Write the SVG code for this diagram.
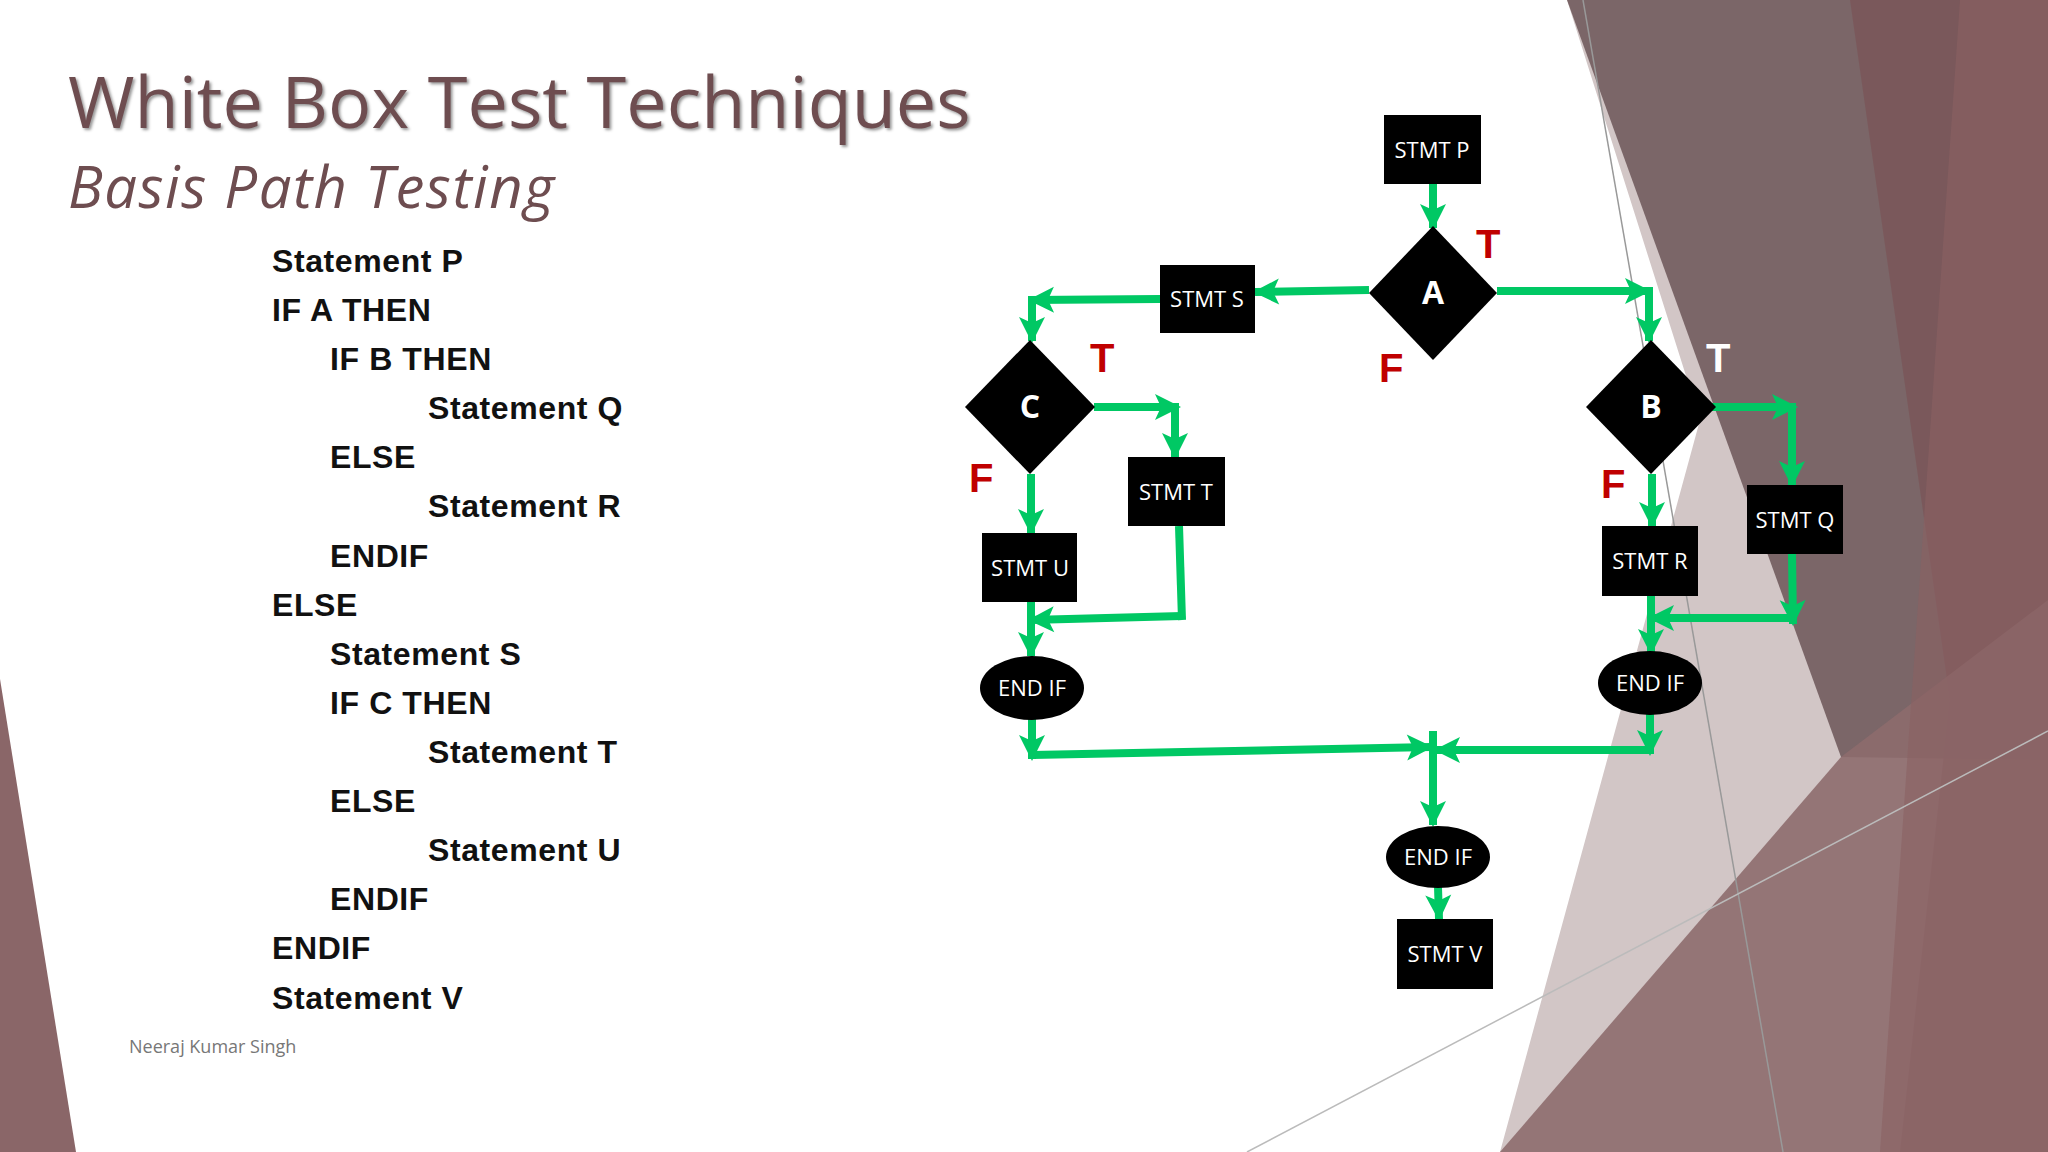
<svg xmlns="http://www.w3.org/2000/svg" width="2048" height="1152" viewBox="0 0 2048 1152">
<defs>
<marker id="ah" markerUnits="userSpaceOnUse" markerWidth="30" markerHeight="30" viewBox="0 0 30 30" refX="26" refY="15" orient="auto"><path d="M2,2 L28,15 L2,28 L8,15 Z" fill="#00c864"/></marker>
</defs>
<style>
.box{fill:#000}
.nt{font-family:"Open Sans","Liberation Sans",sans-serif;fill:#fff;font-size:22px;text-anchor:middle}
.dt{font-family:"Open Sans","Liberation Sans",sans-serif;fill:#fff;font-size:32px;font-weight:bold;text-anchor:middle}
.lb{font-family:"Liberation Sans",sans-serif;fill:#c00000;font-size:40px;font-weight:bold}
.code{font-family:"Liberation Sans",Arial,sans-serif;font-size:32px;font-weight:bold;fill:#111;letter-spacing:0.6px}
.e line{stroke:#00c864;stroke-width:8;marker-end:url(#ah)}
.e line.n{marker-end:none}
</style>
<rect width="2048" height="1152" fill="#fff"/>
<g id="background">
<polygon points="0,679 76,1152 0,1152" fill="#8a6668"/>
<polygon points="1567,0 2048,0 2048,1152 1500,1152 1700,420" fill="#d2c6c6"/>
<polygon points="1567,0 2048,0 2048,760 1841,757" fill="#7b6668"/>
<polygon points="1850,0 2048,0 2048,1152 1900,1152 1950,700" fill="#7a5557" opacity="0.8"/>
<polygon points="1500,1152 1841,757 2048,600 2048,1152" fill="#8d6b6d" opacity="0.9"/>
<polygon points="1960,0 2048,0 2048,1152 1880,1152" fill="#8a6062" opacity="0.6"/>
<line x1="1583" y1="0" x2="1783" y2="1152" stroke="#999" stroke-width="1.5"/>
<line x1="1247" y1="1152" x2="2048" y2="731" stroke="#bbb" stroke-width="1.5"/>
</g>
<g id="title">
<text x="68" y="128" font-family="'Open Sans','Liberation Sans',sans-serif" font-size="72" fill="#6e4d50" style="text-shadow:2px 2px 3px #999">White Box Test Techniques</text>
<text x="68" y="208" font-family="'Open Sans','Liberation Sans',sans-serif" font-size="58" font-style="italic" fill="#6e4d50" letter-spacing="1.5">Basis Path Testing</text>
</g>
<g id="code" class="code">
<text x="272" y="272">Statement P</text>
<text x="272" y="321">IF A THEN</text>
<text x="330" y="370">IF B THEN</text>
<text x="428" y="419">Statement Q</text>
<text x="330" y="468">ELSE</text>
<text x="428" y="517">Statement R</text>
<text x="330" y="567">ENDIF</text>
<text x="272" y="616">ELSE</text>
<text x="330" y="665">Statement S</text>
<text x="330" y="714">IF C THEN</text>
<text x="428" y="763">Statement T</text>
<text x="330" y="812">ELSE</text>
<text x="428" y="861">Statement U</text>
<text x="330" y="910">ENDIF</text>
<text x="272" y="959">ENDIF</text>
<text x="272" y="1009">Statement V</text>
</g>
<text x="129" y="1053" font-family="'Open Sans','Liberation Sans',sans-serif" font-size="18" fill="#777">Neeraj Kumar Singh</text>
<g id="edges" class="e">
<line x1="1433" y1="184" x2="1433" y2="228"/>
<line class="n" x1="1497" y1="291" x2="1620" y2="291"/>
<line x1="1600" y1="291" x2="1649" y2="291"/>
<line x1="1649" y1="287" x2="1649" y2="341"/>
<line x1="1369" y1="290" x2="1255" y2="292"/>
<line x1="1160" y1="299" x2="1030" y2="300"/>
<line x1="1032" y1="296" x2="1032" y2="341"/>
<line x1="1094" y1="407" x2="1179" y2="407"/>
<line x1="1175" y1="403" x2="1175" y2="457"/>
<line x1="1031" y1="474" x2="1031" y2="533"/>
<line class="n" x1="1179" y1="526" x2="1182" y2="620"/>
<line x1="1182" y1="616" x2="1030" y2="620"/>
<line x1="1031" y1="602" x2="1031" y2="656"/>
<line x1="1712" y1="407" x2="1796" y2="407"/>
<line x1="1792" y1="403" x2="1792" y2="485"/>
<line x1="1652" y1="474" x2="1652" y2="526"/>
<line x1="1792" y1="554" x2="1793" y2="624"/>
<line x1="1793" y1="618" x2="1650" y2="618"/>
<line x1="1651" y1="596" x2="1651" y2="653"/>
<line x1="1032" y1="716" x2="1032" y2="759"/>
<line x1="1032" y1="755" x2="1431" y2="747"/>
<line x1="1650" y1="712" x2="1650" y2="754"/>
<line x1="1650" y1="750" x2="1436" y2="750"/>
<line x1="1433" y1="731" x2="1433" y2="825"/>
<line x1="1438" y1="887" x2="1439" y2="919"/>
</g>
<g id="P"><rect class="box" x="1384" y="115" width="97" height="69"/><text class="nt" x="1432" y="158">STMT P</text></g>
<g id="A"><polygon class="box" points="1433,226 1497,293 1433,360 1369,293"/><text class="dt" x="1433" y="304">A</text></g>
<g id="S"><rect class="box" x="1160" y="265" width="95" height="68"/><text class="nt" x="1207" y="307">STMT S</text></g>
<g id="C"><polygon class="box" points="1030,340 1095,407 1030,474 965,407"/><text class="dt" x="1030" y="418">C</text></g>
<g id="B"><polygon class="box" points="1651,340 1716,407 1651,474 1586,407"/><text class="dt" x="1651" y="418">B</text></g>
<g id="T"><rect class="box" x="1128" y="457" width="97" height="69"/><text class="nt" x="1176" y="500">STMT T</text></g>
<g id="U"><rect class="box" x="982" y="533" width="95" height="69"/><text class="nt" x="1030" y="576">STMT U</text></g>
<g id="R"><rect class="box" x="1602" y="526" width="96" height="70"/><text class="nt" x="1650" y="569">STMT R</text></g>
<g id="Q"><rect class="box" x="1747" y="485" width="96" height="69"/><text class="nt" x="1795" y="528">STMT Q</text></g>
<g id="E1"><ellipse class="box" cx="1032" cy="688" rx="52" ry="32"/><text class="nt" x="1032" y="696">END IF</text></g>
<g id="E2"><ellipse class="box" cx="1650" cy="683" rx="52" ry="32"/><text class="nt" x="1650" y="691">END IF</text></g>
<g id="E3"><ellipse class="box" cx="1438" cy="857" rx="52" ry="31"/><text class="nt" x="1438" y="865">END IF</text></g>
<g id="V"><rect class="box" x="1397" y="919" width="96" height="70"/><text class="nt" x="1445" y="962">STMT V</text></g>
<g id="labels">
<text class="lb" x="1476" y="258">T</text>
<text class="lb" x="1379" y="382">F</text>
<text class="lb" x="1090" y="372">T</text>
<text class="lb" x="969" y="492">F</text>
<text class="lb" x="1706" y="372" style="fill:#fff">T</text>
<text class="lb" x="1601" y="498">F</text>
</g>
</svg>
